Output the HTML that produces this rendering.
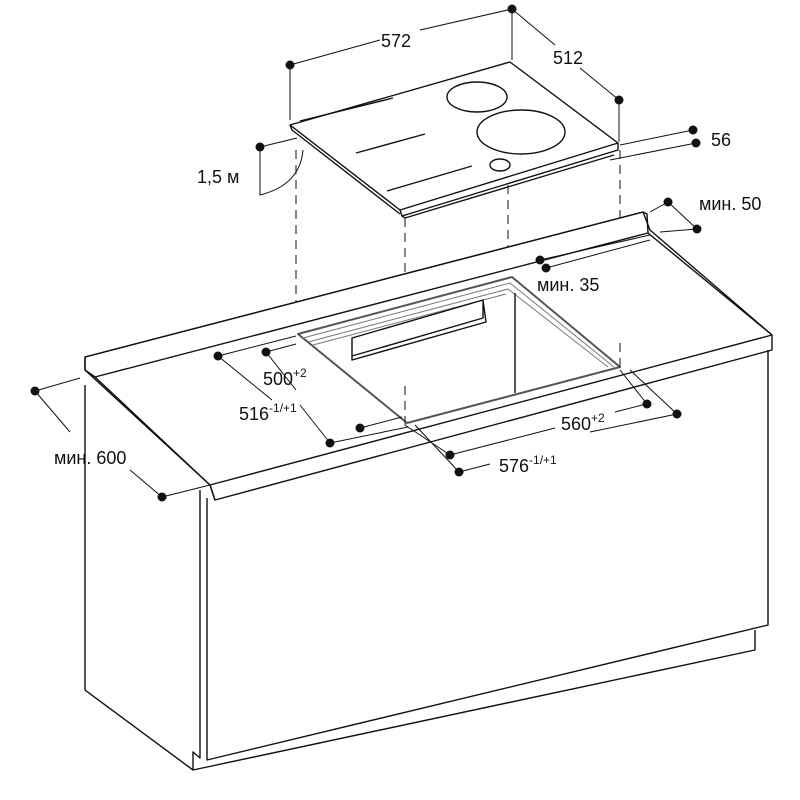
<!DOCTYPE html>
<html><head><meta charset="utf-8"><style>
html,body{margin:0;padding:0;background:#fff}
svg{display:block}
text{font-family:"Liberation Sans","DejaVu Sans",sans-serif;fill:#111}
</style></head><body>
<svg width="800" height="800" viewBox="0 0 800 800" xmlns="http://www.w3.org/2000/svg">
<g fill="none" stroke="#111" stroke-width="1.4" stroke-linejoin="round">
<!-- hob -->
<polygon points="290,125 510,62 618,143 400,210" fill="#fff"/>
<path d="M400,210 L402,216 L618,150 L618,143"/>
<path d="M290,125 L292,130 L400,214"/>
<path d="M402,216 L405,218 L614,155"/>
<ellipse cx="477" cy="97" rx="30" ry="15"/>
<ellipse cx="521" cy="132" rx="44" ry="22"/>
<ellipse cx="500" cy="165" rx="10" ry="6"/>
<path d="M300,121 L393,98 M356,153 L425,134 M387,191 L472,166"/>
<!-- hob dims -->
<path d="M290,65 L290,120 M512,9 L512,60 M619,100 L619,142" stroke-width="1"/>
<path d="M290,65 L380,40 M420,30 L512,9 M512,9 L555,45 M580,68 L619,100" stroke-width="1"/>
<path d="M620,145 L693,130 M610,160 L696,143" stroke-width="1"/>
<path d="M260,147 L297,138 M260,147 L260,195 Q300,185 303,150" stroke-width="1"/>
<!-- dashed projection -->
<path d="M296,150 L296,330 M405,218 L405,425 M508,185 L508,278 M620,150 L620,367" stroke-dasharray="9,6" stroke-width="1"/>
<!-- counter -->
<polygon points="85,357 643,212 650,230 772,335 772,350 215,500 210,485 85,370" fill="#fff"/>
<path d="M85,357 L643,212 L647,214 L648,233 M85,357 L85,370 L95,377 L648,233"/>
<path d="M95,377 L210,485 L772,335 M210,485 L215,500 M648,233 L772,335"/>
<!-- cabinet -->
<path d="M85,385 L85,690 L193,770 L193,752 L200,758 L200,490 M207,498 L207,760 L768,625 L768,350 M193,770 L755,650 L755,630"/>
<!-- cutout -->
<polygon points="298,334 512,277 620,367 407,423" fill="#fff" stroke="#555" stroke-width="2"/>
<path d="M303,338 L510,283 L614,367 M308,342 L508,289 L608,367 M313,345 L506,294" stroke="#777" stroke-width="1"/>
<path d="M515,293 L515,393"/>
<polygon points="352,338 483,300 486,322 352,360"/>
<path d="M352,356 L483,318 L483,302"/>
<path d="M405,425 L405,380 M620,367 L620,340" stroke-dasharray="9,6" stroke-width="1"/>
<!-- counter dims -->
<g stroke-width="1">
<path d="M266,352 L296,344 M218,356 L296,336 M266,352 L296,390 M360,428 L402,417 M330,443 L408,427 M218,356 L272,400 M300,405 L330,443"/>
<path d="M405,425 L450,455 M415,425 L459,472 M450,455 L555,428 M615,412 L646,404 M459,472 L490,464 M590,432 L677,414 M620,370 L647,404 M630,370 L677,414"/>
<path d="M540,260 L650,235 M546,268 L650,240 M650,212 L668,202 M668,202 L697,229 M660,232 L697,229"/>
<path d="M35,391 L80,378 M35,391 L70,432 M130,470 L162,497 M162,497 L210,485"/>
</g>
</g>
<g fill="#111">
<circle cx="290" cy="65" r="4.5"/><circle cx="512" cy="9" r="4.5"/><circle cx="619" cy="100" r="4.5"/>
<circle cx="693" cy="130" r="4.5"/><circle cx="696" cy="143" r="4.5"/><circle cx="260" cy="147" r="4.5"/>
<circle cx="668" cy="202" r="4.5"/><circle cx="697" cy="229" r="4.5"/>
<circle cx="540" cy="260" r="4.5"/><circle cx="546" cy="268" r="4.5"/>
<circle cx="266" cy="352" r="4.5"/><circle cx="218" cy="356" r="4.5"/>
<circle cx="360" cy="428" r="4.5"/><circle cx="330" cy="443" r="4.5"/>
<circle cx="450" cy="455" r="4.5"/><circle cx="459" cy="472" r="4.5"/>
<circle cx="647" cy="404" r="4.5"/><circle cx="677" cy="414" r="4.5"/>
<circle cx="35" cy="391" r="4.5"/><circle cx="162" cy="497" r="4.5"/>
</g>
<g font-size="18">
<text x="381" y="47">572</text>
<text x="553" y="64">512</text>
<text x="711" y="146">56</text>
<text x="197" y="183">1,5 м</text>
<text x="699" y="210">мин. 50</text>
<text x="537" y="291">мин. 35</text>
<text x="263" y="385">500<tspan font-size="12" dy="-8">+2</tspan></text>
<text x="239" y="420">516<tspan font-size="12" dy="-8">-1/+1</tspan></text>
<text x="561" y="430">560<tspan font-size="12" dy="-8">+2</tspan></text>
<text x="499" y="472">576<tspan font-size="12" dy="-8">-1/+1</tspan></text>
<text x="54" y="464">мин. 600</text>
</g>
</svg>
</body></html>
